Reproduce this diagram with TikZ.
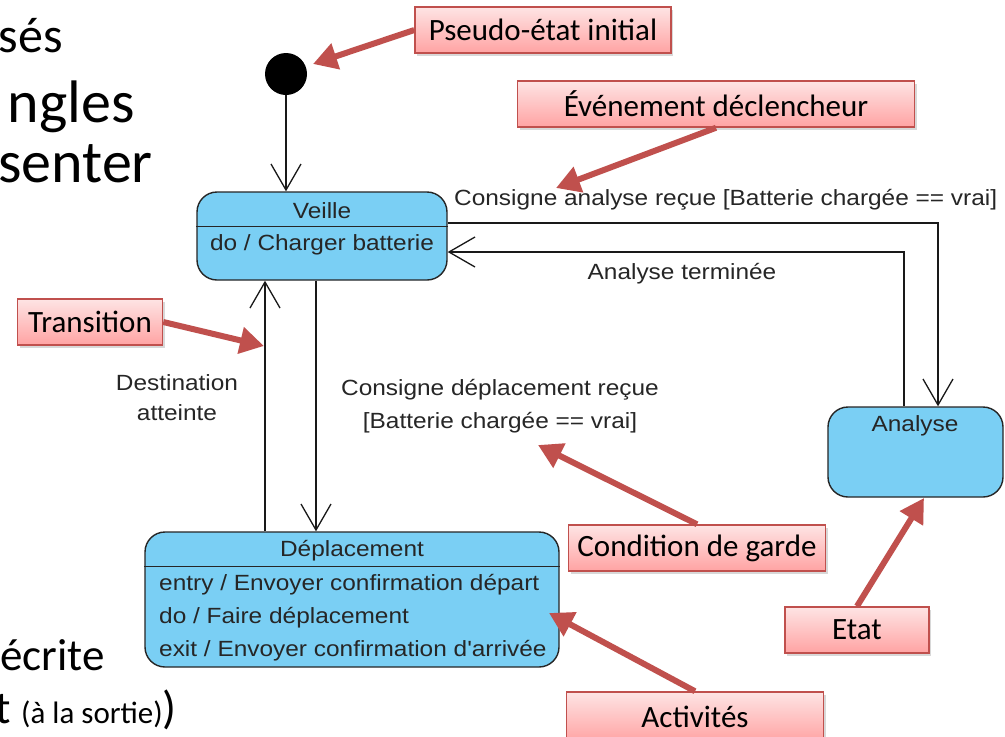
\documentclass[tikz,border=0pt]{standalone}
\usepackage{fontspec}
\setmainfont{Carlito}
\newfontfamily\umlfont[FakeStretch=1.11]{Liberation Sans}
\usepackage{tikz}
\usetikzlibrary{arrows.meta,shadows}
\definecolor{stateblue}{RGB}{122,207,244}
\definecolor{calloutred}{RGB}{192,80,77}
\tikzset{
  etat/.style={draw=black!85,line width=1.4pt,fill=stateblue,rounded corners=20pt,inner sep=0pt},
  uml/.style={line width=1.3pt,black!90,-{Straight Barb[length=26pt,width=30pt,line width=1.3pt]}},
  umltxt/.style={font=\umlfont\fontsize{22}{33}\selectfont,text=black!85,inner sep=0pt},
  etiquette/.style={draw=calloutred,line width=1.5pt,top color={rgb,255:red,254;green,228;blue,228},
    bottom color={rgb,255:red,255;green,163;blue,163},minimum height=46pt,inner sep=0pt,
    font=\fontsize{31}{36}\selectfont,drop shadow={shadow xshift=2pt,shadow yshift=-3pt,opacity=0.3}},
  fleche/.style={calloutred,line width=6pt,-{Triangle[length=24pt,width=26pt]}},
  bigtxt/.style={font=\fontsize{60}{70}\selectfont,inner sep=0pt,anchor=base east}
}
\begin{document}
\begin{tikzpicture}[x=1pt,y=-1pt]
\useasboundingbox (0,0) rectangle (1005,737);
\clip (0,0) rectangle (1005,737);
\fill[white] (0,0) rectangle (1005,737);
% slide text behind the diagram
\node[bigtxt,font=\fontsize{50}{60}\selectfont] (l1) at (63,52) {sés};
\node[bigtxt] (l2) at (135,122) {ngles};
\node[bigtxt] (l3) at (153,182) {senter};
\node[bigtxt,font=\fontsize{45}{54}\selectfont] (l4) at (105,670) {écrite};
\node[bigtxt,font=\fontsize{46}{54}\selectfont] (l5) at (177,723) {t {\fontsize{31}{36}\selectfont (à la sortie)})};
% states
\node[circle,fill=black,minimum size=42pt,inner sep=0pt] (init) at (286,74) {};
\node[etat,minimum width=250pt,minimum height=88pt] (veille) at (322,236) {};
\draw[black!85,line width=1.4pt] ([yshift=-35pt]veille.north west) -- ([yshift=-35pt]veille.north east);
\node[umltxt] (veilleT) at (322,211) {Veille};
\node[umltxt] (veilleA) at (322,245) {do / Charger batterie};
\node[etat,minimum width=414pt,minimum height=135pt] (depl) at (352,599.5) {};
\draw[black!85,line width=1.4pt] ([yshift=-35pt]depl.north west) -- ([yshift=-35pt]depl.north east);
\node[umltxt] (deplT) at (352,551) {Déplacement};
\node[umltxt,anchor=west,align=left] (deplA) at (159,618) {entry / Envoyer confirmation départ\\do / Faire déplacement\\exit / Envoyer confirmation d'arrivée};
\node[etat,minimum width=175pt,minimum height=90pt] (analyse) at (915.5,452) {};
\node[umltxt] (analyseT) at (915,426) {Analyse};
% transitions
\coordinate (t1) at (938,223);
\coordinate (t2) at (904,252);
\coordinate (t3) at (316,0);
\coordinate (t4) at (265,0);
\draw[uml] (init) -- (init |- veille.north);
\draw[uml] (veille.east |- t1) -- (t1) -- (t1 |- analyse.north);
\draw[uml] (t2 |- analyse.north) -- (t2) -- (t2 -| veille.east);
\draw[uml] (veille.south -| t3) -- (depl.north -| t3);
\draw[uml] (depl.north -| t4) -- (veille.south -| t4);
\node[umltxt,anchor=west] (ev1) at (454,200) {Consigne analyse reçue [Batterie chargée == vrai]};
\node[umltxt] (ev2) at (682,274) {Analyse terminée};
\node[umltxt,align=center] (ev3) at (500,406) {Consigne déplacement reçue\\{}[Batterie chargée == vrai]};
\node[umltxt,align=center,font=\umlfont\fontsize{22}{30}\selectfont] (ev4) at (177,398) {Destination\\atteinte};
% callouts
\node[etiquette,minimum width=256pt] (pseudo) at (543,30) {Pseudo-état initial};
\node[etiquette,minimum width=397pt] (evt) at (716,104) {Événement déclencheur};
\node[etiquette,minimum width=145pt] (trans) at (90,322) {Transition};
\node[etiquette,minimum width=257pt] (garde) at (697,548) {Condition de garde};
\node[etiquette,minimum width=144pt] (etatE) at (857,630) {Etat};
\node[etiquette,minimum width=257pt,minimum height=50pt] (activ) at (695,717) {Activités};
\draw[fleche] (pseudo.west) -- (313,64);
\draw[fleche] (evt.south) -- (556,188);
\draw[fleche] (trans.east) -- (264,346);
\draw[fleche] (garde.north) -- (538,445);
\draw[fleche] (etatE.north) -- (924,498);
\draw[fleche] (activ.north) -- (549,613);
\end{tikzpicture}
\end{document}
